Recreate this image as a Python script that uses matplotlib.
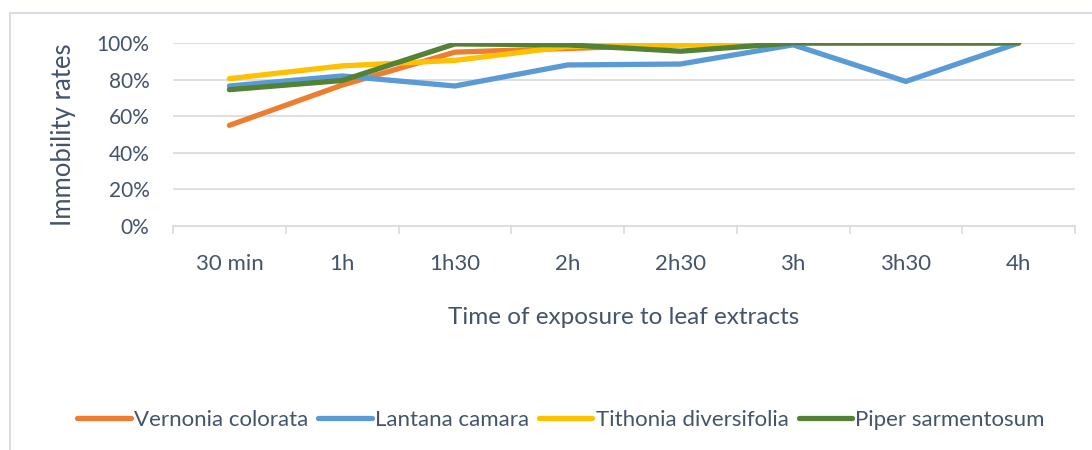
import matplotlib
matplotlib.use("Agg")
import matplotlib.pyplot as plt
from matplotlib.patches import Rectangle

plt.rcParams['font.family'] = ['Lato', 'DejaVu Sans']

# data (fraction immobile)
times = ['30 min', '1h', '1h30', '2h', '2h30', '3h', '3h30', '4h']
vernonia = [0.55, 0.77, 0.95, 0.97, 0.99, 1.00, 1.00, 1.00]
lantana = [0.765, 0.82, 0.765, 0.88, 0.885, 0.99, 0.79, 1.00]
tithonia = [0.805, 0.875, 0.905, 0.98, 0.99, 1.00, 1.00, 1.00]
piper = [0.745, 0.795, 0.995, 0.99, 0.955, 1.00, 1.00, 1.00]

series = [('Vernonia colorata', vernonia, '#ED7D31'),
          ('Lantana camara', lantana, '#5B9BD5'),
          ('Tithonia diversifolia', tithonia, '#FFC000'),
          ('Piper sarmentosum', piper, '#538135')]

txt = '#44546A'
grid = '#D9DDE3'

fig = plt.figure(figsize=(10.92, 4.5), dpi=100)
# chart frame (cropped)
fig.patches.append(Rectangle((10/1092, -0.1), 1.2, 1 - 13/450 + 0.1,
                             transform=fig.transFigure, fill=False,
                             edgecolor=grid, lw=1.5))

ax = fig.add_axes([173/1092, 1 - 226/450, (1075 - 173)/1092, (226 - 43)/450])
x = list(range(len(times)))
for name, vals, col in series:
    ax.plot(x, vals, color=col, lw=3.8, label=name, solid_capstyle='round')

ax.set_xlim(-0.5, len(times) - 0.5)
ax.set_ylim(0, 1.0)
ax.set_yticks([0, 0.2, 0.4, 0.6, 0.8, 1.0])
ax.set_yticklabels(['0%', '20%', '40%', '60%', '80%', '100%'])
ax.set_xticks([i - 0.5 for i in range(len(times) + 1)])
ax.set_xticklabels([])
ax.set_xticks(x, minor=True)
ax.set_xticklabels(times, minor=True)
ax.tick_params(axis='x', which='major', length=6, color=grid, width=1.3, direction='out')
ax.tick_params(axis='x', which='minor', length=0, pad=20, labelsize=16, labelcolor=txt)
ax.tick_params(axis='y', length=0, pad=17, labelsize=15, labelcolor=txt)
ax.yaxis.grid(True, color=grid, lw=1.3)
ax.set_axisbelow(True)
for s in ['top', 'right', 'left']:
    ax.spines[s].set_visible(False)
ax.spines['bottom'].set_color(grid)
ax.spines['bottom'].set_linewidth(1.3)

ax.set_ylabel('Immobility rates', fontsize=18.5, color=txt, labelpad=15)
ax.set_xlabel('Time of exposure to leaf extracts', fontsize=17.5, color=txt, labelpad=24)

fig.legend(loc='center', bbox_to_anchor=(561/1092, 1 - 420/450), ncol=4,
           frameon=False, fontsize=16, labelcolor=txt, handlelength=2.4,
           handletextpad=0.15, columnspacing=0.45)

fig.savefig('out.png', dpi=100)
